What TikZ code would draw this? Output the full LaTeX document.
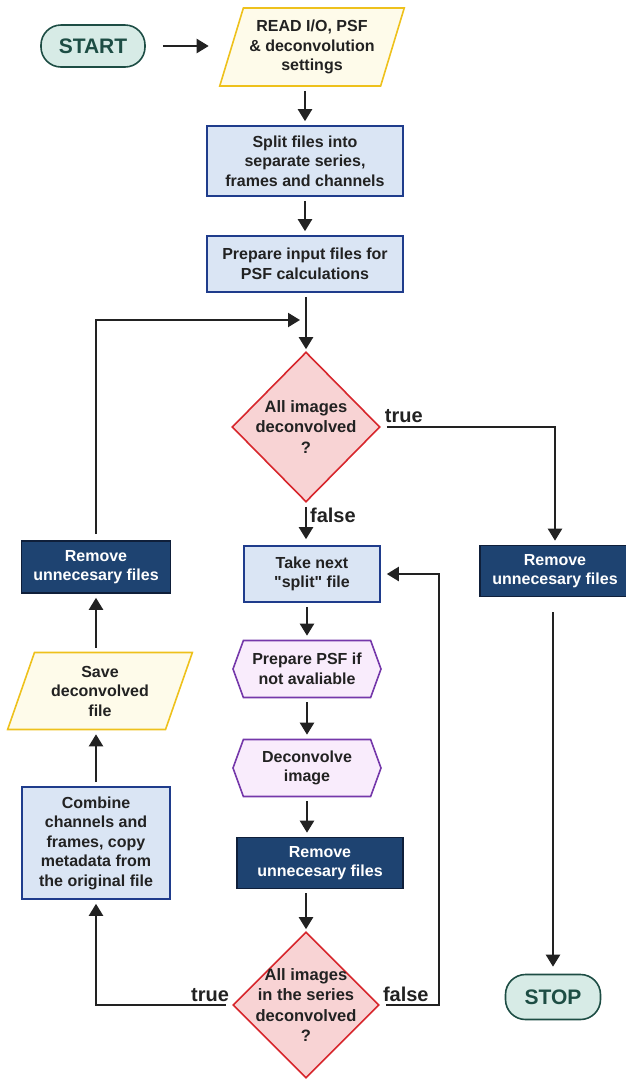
\documentclass[tikz,border=0pt]{standalone}
\usepackage{fontspec}
\setmainfont{Liberation Sans}[Ligatures=TeXOff]
\usetikzlibrary{calc,arrows.meta,shapes.geometric,shapes.symbols}
\definecolor{termfill}{HTML}{D7EBE6}
\definecolor{termline}{HTML}{1D4D44}
\definecolor{iofill}{HTML}{FEFBEA}
\definecolor{ioline}{HTML}{EEC11C}
\definecolor{procfill}{HTML}{DAE5F4}
\definecolor{procline}{HTML}{1F3C8C}
\definecolor{navyfill}{HTML}{1E4371}
\definecolor{navyline}{HTML}{0F1F3A}
\definecolor{decfill}{HTML}{F8D3D4}
\definecolor{decline}{HTML}{D7262C}
\definecolor{subfill}{HTML}{F9ECFC}
\definecolor{subline}{HTML}{7538AA}
\definecolor{ink}{HTML}{222222}
\tikzset{
	base/.style={line width=1.6pt, align=center, inner sep=2pt, text=ink, font=\bfseries\fontsize{16}{19.5}\selectfont},
	terminal/.style={base, rounded corners=20pt, draw=termline, fill=termfill, text=termline, font=\bfseries\fontsize{21}{24}\selectfont},
	io/.style={base, trapezium, trapezium left angle=69, trapezium right angle=111, trapezium stretches, draw=ioline, fill=iofill},
	proc/.style={base, draw=procline, fill=procfill},
	navy/.style={base, draw=navyline, fill=navyfill, text=white},
	decision/.style={base, diamond, draw=decline, fill=decfill, inner sep=0pt},
	dectext/.style={base, font=\bfseries\fontsize{16.5}{20.5}\selectfont},
	subproc/.style={base, signal, signal to=west and east, signal pointer angle=140, draw=subline, fill=subfill},
	arr/.style={draw=ink, line width=2.2pt, -{Triangle[length=12pt,width=14pt]}, shorten <=4pt, shorten >=4pt},
	lbl/.style={text=ink, font=\bfseries\fontsize{20}{22}\selectfont, inner sep=3pt}
}

\begin{document}
\begin{tikzpicture}[x=1pt,y=-1pt]
				%%%%% START %%%%%
				\def\xc{306}
				\def\xl{96}
				\def\xr{553}
				\def\yjoin{320}
				
				\useasboundingbox (0,0) rectangle (625,1080);
				
				% main column
				\node[terminal, minimum width=104pt, minimum height=42pt] (start) at (93,46) {START};
				\node[io, minimum width=185pt, minimum height=78pt] (read) at (312,47) {READ I/O, PSF\\\& deconvolution\\settings};
				\node[proc, minimum width=196pt, minimum height=70pt] (split) at (305,161) {Split files into\\separate series,\\frames and channels};
				\node[proc, minimum width=196pt, minimum height=56pt] (prep) at (305,264) {Prepare input files for\\PSF calculations};
				\coordinate (join) at (\xc,\yjoin);
				
				\node[decision, minimum width=148pt, minimum height=150pt] (dec1) at (\xc,427) {};
				\node[dectext] (dec1t) at (dec1) {All images\\deconvolved\\?};
				
				\node[proc, minimum width=136pt, minimum height=56pt] (take) at (312,574) {Take next\\"split" file};
				\node[subproc, minimum width=148pt, minimum height=57pt] (psf) at (307,669) {Prepare PSF if\\not avaliable};
				\node[subproc, minimum width=148pt, minimum height=57pt] (deconv) at (307,768) {Deconvolve\\image};
				\node[navy, minimum width=166pt, minimum height=51pt] (mrem) at (320,863) {Remove\\unnecesary files};
				
				\node[decision, minimum width=146pt, minimum height=146pt] (dec2) at (\xc,1005) {};
				\node[dectext] (dec2t) at (dec2) {All images\\in the series\\deconvolved\\?};
				
				% left column
				\node[proc, minimum width=148pt, minimum height=112pt] (comb) at (\xl,843) {Combine\\channels and\\frames, copy\\metadata from\\the original file};
				\node[io, minimum width=185pt, minimum height=77pt] (save) at (100,691) {Save\\deconvolved\\file};
				\node[navy, minimum width=149pt, minimum height=52pt] (lrem) at (\xl,567) {Remove\\unnecesary files};
				
				% right column
				\node[navy, minimum width=150pt, minimum height=51pt] (rrem) at (555,571) {Remove\\unnecesary files};
				\node[terminal, minimum width=95pt, minimum height=45pt] (stop) at (\xr,997) {STOP};
				
				% arrows
				\draw[arr, shorten <=17pt, shorten >=22pt] (start.east) -- (start.east -| read.west);
				\draw[arr] (read.south -| split.north) -- (split.north);
				\draw[arr] (split.south) -- (prep.north);
				\draw[arr, shorten >=2pt] (prep.south -| dec1.north) -- (dec1.north);
				\draw[arr, shorten <=6pt, shorten >=6pt] (lrem.north) |- (join);
				
				\draw[arr, shorten <=6pt] (dec1.east) -| (rrem.north) node[lbl, anchor=south west, pos=0] {true};
				\draw[arr, shorten >=6pt] (dec1.south) -- (dec1.south |- take.north) node[lbl, anchor=west, pos=0.3] {false};
				\draw[arr, shorten <=15pt, shorten >=7pt] (rrem.south -| stop.north) -- (stop.north);
				
				\draw[arr] (take.south -| psf.north) -- (psf.north);
				\draw[arr] (psf.south) -- (deconv.north);
				\draw[arr] (deconv.south) -- (deconv.south |- mrem.north);
				\draw[arr, shorten >=2pt] (mrem.south -| dec2.north) -- (dec2.north);
				
				\draw[arr, shorten <=6pt, shorten >=6pt] (dec2.east) -- ++(59,0) |- (take.east);
				\node[lbl, anchor=south west] (f2) at (dec2.east) {false};
				\draw[arr, shorten <=6pt] (dec2.west) -| (comb.south);
				\node[lbl, anchor=south east] (t2) at (dec2.west) {true};
				\draw[arr] (comb.north) -- (comb.north |- save.south);
				\draw[arr] (save.north -| lrem.south) -- (lrem.south);
				%%%%% END %%%%%
\end{tikzpicture}
\end{document}
